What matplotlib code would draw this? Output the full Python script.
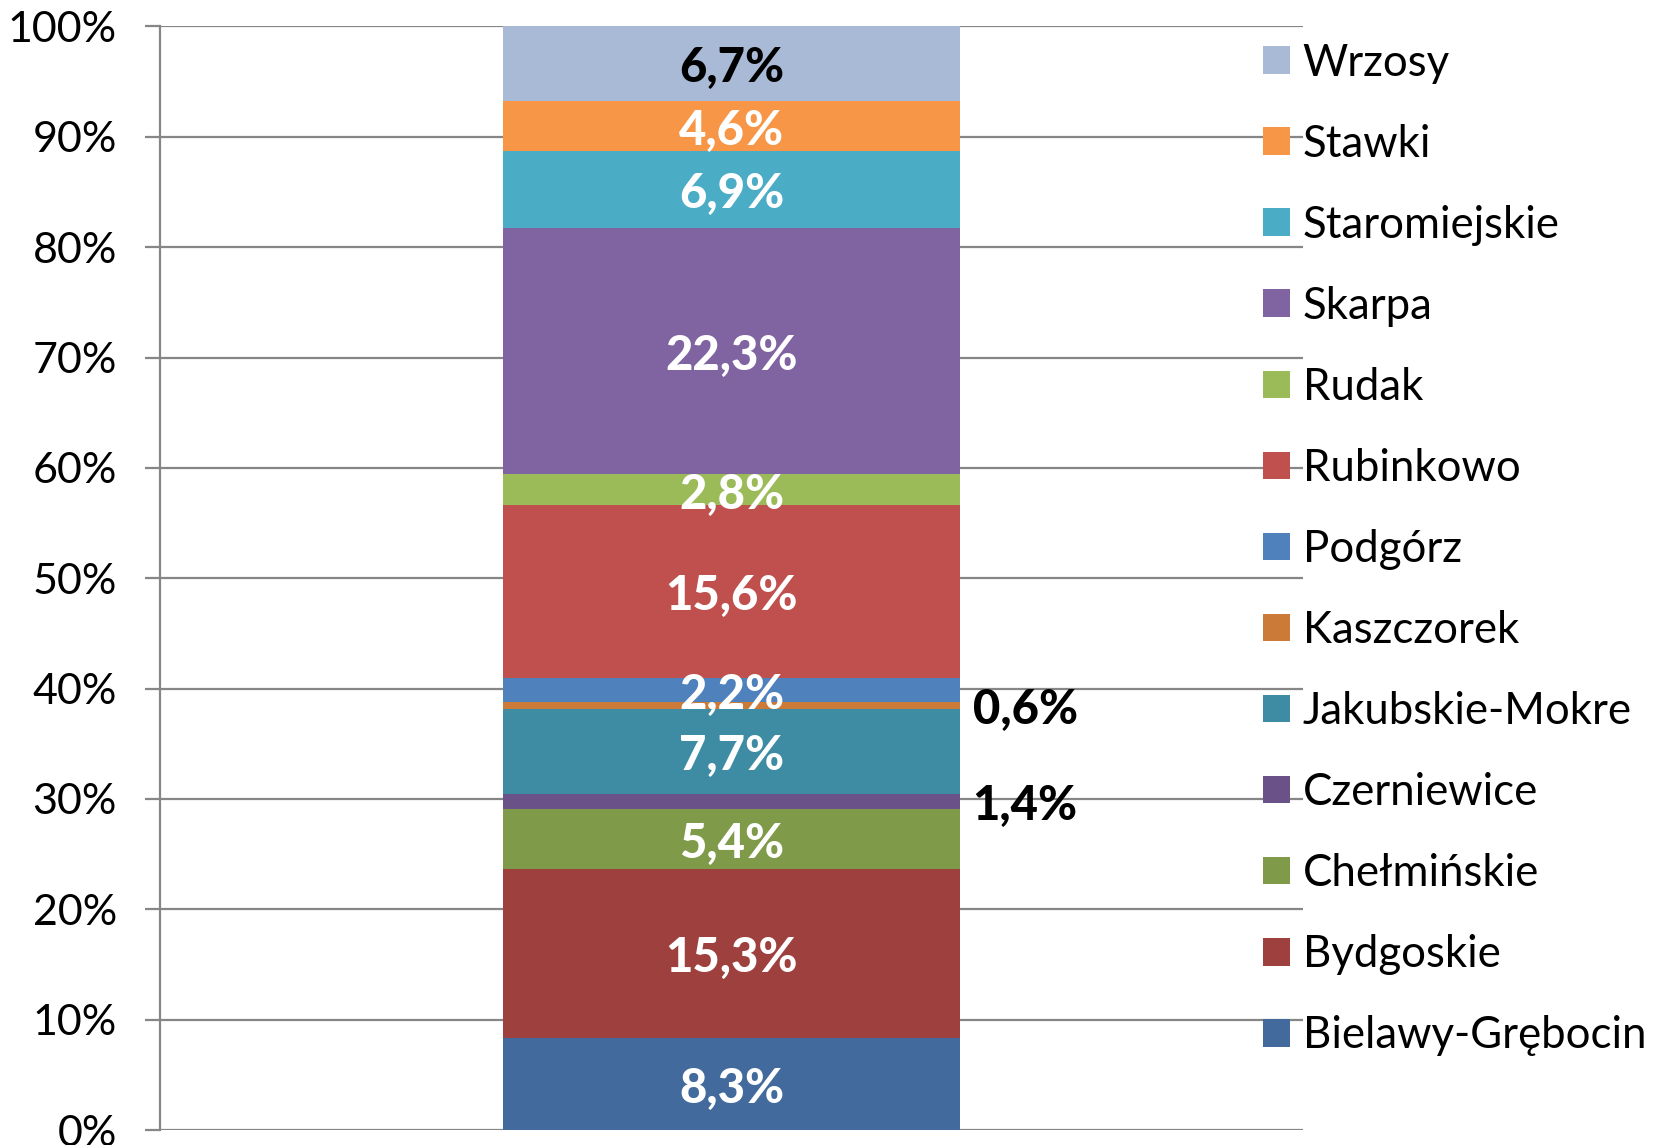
import matplotlib
matplotlib.use("Agg")
import matplotlib.pyplot as plt
from matplotlib.patches import Patch
from matplotlib.ticker import FuncFormatter

plt.rcParams['font.family'] = ['Lato', 'DejaVu Sans']

districts = ["Bielawy-Grębocin", "Bydgoskie", "Chełmińskie", "Czerniewice",
             "Jakubskie-Mokre", "Kaszczorek", "Podgórz", "Rubinkowo", "Rudak",
             "Skarpa", "Staromiejskie", "Stawki", "Wrzosy"]
values = [8.3, 15.3, 5.4, 1.4, 7.7, 0.6, 2.2, 15.6, 2.8, 22.3, 6.9, 4.6, 6.7]
colors = ["#426A9C", "#9D403E", "#7F9A48", "#6A5289", "#3D8CA4", "#CC7A38",
          "#4F81BD", "#C0504D", "#9BBB59", "#8064A2", "#4BACC6", "#F79646",
          "#A9BAD7"]
label_colors = ["white"] * 12 + ["black"]
outside = [False, False, False, True, False, True, False, False, False,
           False, False, False, False]
yticks = [0, 10, 20, 30, 40, 50, 60, 70, 80, 90, 100]

fig = plt.figure(figsize=(16.59, 11.45), dpi=100)
ax = fig.add_axes([0.0964, 0.0131, 0.689, 0.9638])

total = sum(values)
bw = 0.4
bottom = 0.0
for name, v, c, lc, out in zip(districts, values, colors, label_colors, outside):
    h = v / total * 100
    ax.bar(0, h, width=bw, bottom=bottom, color=c, edgecolor='none', zorder=3)
    txt = f"{v:.1f}".replace(".", ",") + "%"
    yc = bottom + h / 2
    if out:
        ax.annotate(txt, (bw / 2, yc), xytext=(9, -3.5), textcoords='offset points',
                    ha='left', va='center', fontsize=34, fontweight='black',
                    color='black', zorder=4)
    else:
        ax.annotate(txt, (0, yc), xytext=(0, -3.5), textcoords='offset points',
                    ha='center', va='center', fontsize=34,
                    fontweight='black', color=lc, zorder=4)
    bottom += h

ax.set_xlim(-0.5, 0.5)
ax.set_ylim(0, 100)
ax.set_yticks(yticks)
ax.yaxis.set_major_formatter(FuncFormatter(lambda v, p: f"{int(v)}%"))
ax.set_xticks([])
ax.grid(axis='y', color='#868686', linewidth=1.6, zorder=0)
for s in ['top', 'right', 'bottom']:
    ax.spines[s].set_visible(False)
ax.spines['left'].set_color('#868686')
ax.spines['left'].set_linewidth(1.6)
ax.tick_params(axis='y', direction='out', length=11, width=1.6, color='#868686',
               labelsize=31, pad=20)

handles = [Patch(facecolor=c, edgecolor='none') for c in colors]
fig.legend(handles[::-1], districts[::-1], loc='upper left',
           bbox_to_anchor=(0.751, 0.978), frameon=False, fontsize=31.5,
           handlelength=0.6, handleheight=0.6, handletextpad=0.3,
           labelspacing=0.915, borderaxespad=0)

fig.savefig("out.png", dpi=100)
